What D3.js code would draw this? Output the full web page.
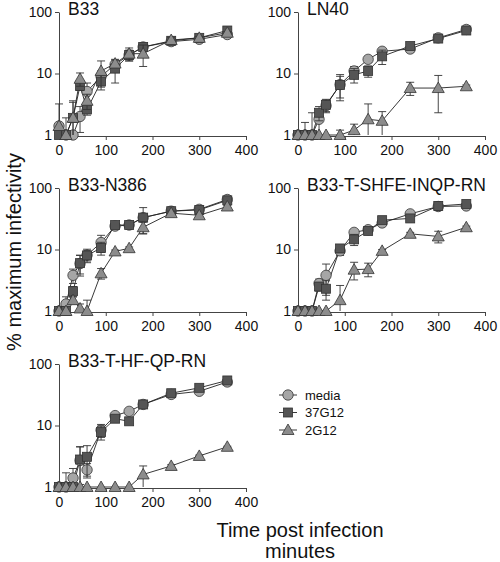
<!DOCTYPE html>
<html><head><meta charset="utf-8">
<script src="https://cdn.jsdelivr.net/npm/d3@7"></script>
<style>
body{margin:0;background:#fff;}
text{font-family:"Liberation Sans",Arial,sans-serif;fill:#111;}
</style></head>
<body><svg id="c" width="500" height="562"></svg>
<script>
const times = [0,15,30,45,60,90,120,150,180,240,300,360];
const seriesNames = ["media","37G12","2G12"];
const panelTitles = ["B33","LN40","B33-N386","B33-T-SHFE-INQP-RN","B33-T-HF-QP-RN"];
const yTicks = [1,10,100];
const xTicks = [0,100,200,300,400];

// B33
const b33Media    = [1.4,1.0,1.0,2.0,5.1,9,14,20,27,33,36,43];
const b33MediaErr = [1.8,0,0,0.9,1.9,2,1,3,2,3,2,2];
const b33Ab37     = [1.0,1.0,1.9,6.3,2.6,7.4,12,20,27,34,38,50];
const b33Ab37Err  = [0,0,1.5,1,0.5,2,5,4,2,3,2,3];
const b33Ab2      = [1.4,1.0,1.9,8.2,3.6,11,14.5,21,21,35,38,46];
const b33Ab2Err   = [0,0.9,1.7,2,1,5,2,5,8,4,2,2];
// LN40
const ln40Media    = [1,1,1,1.8,3.0,6.6,11,17,23,25,38,52];
const ln40MediaErr = [0,0.6,1.3,0.8,0.7,3,2,2,2,3,2,2];
const ln40Ab37     = [1,1,1,2.3,3.1,6.5,9.5,11,19,28,37,50];
const ln40Ab37Err  = [0,0,0,0.6,0.7,2.5,2.5,2.3,5,3,2,2];
const ln40Ab2      = [1,1,1,1,1,1,1.2,1.8,1.7,5.8,5.8,6.2];
const ln40Ab2Err   = [0,0,0,0,0,0.2,0.3,1.4,0.7,1.4,3.5,0.3];
// B33-N386
const n386Media    = [1,1.3,3.8,5.9,8.1,13,24,25,33,42,45,65];
const n386MediaErr = [0,0.4,1,2.2,2,4,1,1,2,3,2,2];
const n386Ab37     = [1,1,2.1,6,8,10.6,25,25,33,42,44,63];
const n386Ab37Err  = [0,0,0.4,2,1.5,2.5,1,1,15,3,2,3];
const n386Ab2      = [1,1,1.5,1.1,1,4.1,9.3,10.5,23,39,36,50];
const n386Ab2Err   = [0,0,0.2,0.2,0.5,0.8,0.5,0.5,5,3,2,2];
// B33-T-SHFE-INQP-RN
const shfeMedia    = [1,1,1,2.8,3.8,9.5,19,21,27,38,50,51];
const shfeMediaErr = [0,0,0,0.5,2,1.5,2,2,2,2,3,2];
const shfeAb37     = [1,1,1,2.5,2.3,10.4,14.6,20,30,32,51,55];
const shfeAb37Err  = [0,0,0,0.4,0.8,1.5,3,2,2,2,8,3];
const shfeAb2      = [1,1,1,1,1,1.5,4.7,4.8,9.5,18,16.3,23];
const shfeAb2Err   = [0,0,0,0,0,1.1,1.5,1.2,0.5,1,3.5,1];
// B33-T-HF-QP-RN
const hfMedia    = [1,1,1.4,2.7,1.9,8.4,14.5,17,22,32,36,51];
const hfMediaErr = [0,0.7,0.6,1.8,0.5,2,1,1.5,1,1,1,2];
const hfAb37     = [1,1,1,2.8,3.1,7.8,12.9,11.7,22,33.5,41,54];
const hfAb37Err  = [0,0,0,1.7,1.6,2,1,1,1,2,2,2];
const hfAb2      = [1,1,1,1,1,1,1,1,1.6,2.2,3.2,4.5];
const hfAb2Err   = [0,0,0,0,0,0,0,0,0.6,0.1,0.1,0.1];

const panelData = [
  [[b33Media,b33MediaErr],[b33Ab37,b33Ab37Err],[b33Ab2,b33Ab2Err]],
  [[ln40Media,ln40MediaErr],[ln40Ab37,ln40Ab37Err],[ln40Ab2,ln40Ab2Err]],
  [[n386Media,n386MediaErr],[n386Ab37,n386Ab37Err],[n386Ab2,n386Ab2Err]],
  [[shfeMedia,shfeMediaErr],[shfeAb37,shfeAb37Err],[shfeAb2,shfeAb2Err]],
  [[hfMedia,hfMediaErr],[hfAb37,hfAb37Err],[hfAb2,hfAb2Err]]
];

const colX = [59, 298];
const rowY = [12, 188, 364];
const pw = 187, ph = 123;
const fills = ["#a6a6a6","#555555","#8c8c8c"];
const stroke = "#333";

const svg = d3.select("#c");

function marker(g, type, cx, cy, fill){
  if(type===0){
    g.append("circle").attr("cx",cx).attr("cy",cy).attr("r",5.2)
      .attr("fill",fill).attr("stroke",stroke).attr("stroke-width",0.8);
  } else if(type===1){
    g.append("rect").attr("x",cx-4.5).attr("y",cy-4.5).attr("width",9).attr("height",9)
      .attr("fill",fill).attr("stroke",stroke).attr("stroke-width",0.8);
  } else {
    const s=6;
    g.append("path").attr("d",`M${cx},${cy-s}L${cx+s},${cy+s*0.75}L${cx-s},${cy+s*0.75}Z`)
      .attr("fill",fill).attr("stroke",stroke).attr("stroke-width",0.8);
  }
}

panelTitles.forEach((title,pi)=>{
  const col = pi%2, row = Math.floor(pi/2);
  const x = d3.scaleLinear().domain([0,400]).range([colX[col], colX[col]+pw]);
  const y = d3.scaleLog().domain([1,100]).range([rowY[row]+ph, rowY[row]]).clamp(true);
  const g = svg.append("g");

  const ya = g.append("g").attr("transform",`translate(${colX[col]},0)`)
    .call(d3.axisLeft(y).tickValues(yTicks).tickFormat(d3.format("d")).tickSize(4).tickSizeOuter(0).tickPadding(3));
  const xa = g.append("g").attr("transform",`translate(0,${rowY[row]+ph+1})`)
    .call(d3.axisBottom(x).tickValues(xTicks).tickSize(4).tickSizeOuter(0).tickPadding(5));
  [ya,xa].forEach(a=>{
    a.selectAll("path,line").attr("stroke","#444");
    a.selectAll("text").attr("font-size",14).attr("font-family","Liberation Sans, Arial, sans-serif").attr("fill","#111");
  });

  g.append("text").attr("x",colX[col]+9).attr("y",rowY[row]+3).attr("font-size",17.5).text(title);

  const series = panelData[pi];
  // lines
  series.forEach((s,si)=>{
    const line = d3.line().x((d,i)=>x(times[i])).y(d=>y(d));
    g.append("path").attr("d",line(s[0])).attr("fill","none").attr("stroke","#222").attr("stroke-width",0.9);
  });
  // error bars + markers
  series.forEach((s,si)=>{
    const eg = g.append("g");
    s[0].forEach((v,i)=>{
      const e = s[1][i];
      if(e>0){
        const cx = x(times[i]);
        const yt = y(v+e), yb = y(Math.max(v-e,1));
        eg.append("line").attr("x1",cx).attr("x2",cx).attr("y1",yt).attr("y2",yb).attr("stroke","#333").attr("stroke-width",0.9);
        eg.append("line").attr("x1",cx-4).attr("x2",cx+4).attr("y1",yt).attr("y2",yt).attr("stroke","#333").attr("stroke-width",0.9);
        if(v-e>1) eg.append("line").attr("x1",cx-4).attr("x2",cx+4).attr("y1",yb).attr("y2",yb).attr("stroke","#333").attr("stroke-width",0.9);
      }
    });
    s[0].forEach((v,i)=>marker(eg, si, x(times[i]), y(v), fills[si]));
  });
});

// legend
const lg = svg.append("g");
seriesNames.forEach((n,i)=>{
  const yy = 395 + i*17.5;
  lg.append("line").attr("x1",279).attr("x2",297).attr("y1",yy).attr("y2",yy).attr("stroke","#222").attr("stroke-width",0.9);
  marker(lg, i, 288, yy, fills[i]);
  lg.append("text").attr("x",305).attr("y",yy+4.5).attr("font-size",13).text(n);
});

// axis titles
svg.append("text").attr("transform","translate(21,252) rotate(-90)").attr("text-anchor","middle")
  .attr("font-size",20).text("% maximum infectivity");
svg.append("text").attr("x",300).attr("y",537).attr("text-anchor","middle").attr("font-size",20).text("Time post infection");
svg.append("text").attr("x",300).attr("y",558).attr("text-anchor","middle").attr("font-size",20).text("minutes");
</script></body></html>
